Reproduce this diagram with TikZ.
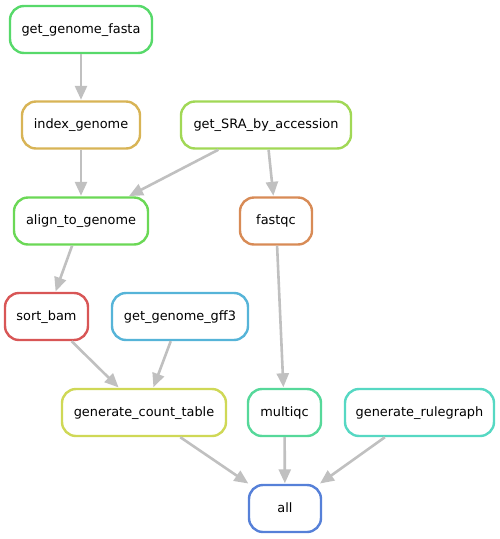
\documentclass[tikz,border=0pt]{standalone}
\usepackage{fontspec}
\setmainfont{DejaVu Sans}
\usetikzlibrary{arrows.meta}
\definecolor{cA}{HTML}{57D96A}
\definecolor{cB}{HTML}{D8B456}
\definecolor{cC}{HTML}{A1D856}
\definecolor{cD}{HTML}{6BD856}
\definecolor{cE}{HTML}{D88B56}
\definecolor{cF}{HTML}{D85656}
\definecolor{cG}{HTML}{56B4D8}
\definecolor{cH}{HTML}{CFD856}
\definecolor{cI}{HTML}{56D89A}
\definecolor{cJ}{HTML}{56D8C3}
\definecolor{cK}{HTML}{5680D8}
\definecolor{edgegray}{HTML}{C0C0C0}
\begin{document}
\begin{tikzpicture}[x=1pt,y=-1pt,
  rule/.style={draw, line width=2.4pt, rounded corners=14pt, fill=white,
    minimum height=47pt, inner sep=0pt, text height=9.5pt, text depth=2pt,
    font=\fontsize{12.9}{14}\selectfont},
  dep/.style={draw=edgegray, line width=2.6pt, -{Triangle[length=14pt,width=12pt]}, shorten >=0.5pt}]
\useasboundingbox (0,0) rectangle (500,539);
\node[rule, draw=cA, minimum width=142pt] (fasta) at (81,29.5) {get\_genome\_fasta};
\node[rule, draw=cB, minimum width=118pt] (index) at (81,125) {index\_genome};
\node[rule, draw=cC, minimum width=170pt] (sra) at (266,125) {get\_SRA\_by\_accession};
\node[rule, draw=cD, minimum width=134pt] (align) at (81,221) {align\_to\_genome};
\node[rule, draw=cE, minimum width=72pt] (fastqc) at (276,221) {fastqc};
\node[rule, draw=cF, minimum width=83pt] (sort) at (46.5,316.5) {sort\_bam};
\node[rule, draw=cG, minimum width=136pt] (gff) at (180,316.5) {get\_genome\_gff3};
\node[rule, draw=cH, minimum width=164pt] (gct) at (144,412.5) {generate\_count\_table};
\node[rule, draw=cI, minimum width=73pt] (multiqc) at (284.5,412.5) {multiqc};
\node[rule, draw=cJ, minimum width=149pt] (rg) at (419.5,412.5) {generate\_rulegraph};
\node[rule, draw=cK, minimum width=72pt] (all) at (285,508.5) {all};
\draw[dep] (fasta) -- (index);
\draw[dep] (index) -- (align);
\draw[dep] (sra) -- (align);
\draw[dep] (sra) -- (fastqc);
\draw[dep] (align) -- (sort);
\draw[dep] (sort) -- (gct);
\draw[dep] (gff) -- (gct);
\draw[dep] (fastqc) -- (multiqc);
\draw[dep] (gct) -- (all);
\draw[dep] (multiqc) -- (all);
\draw[dep] (rg) -- (all);
\end{tikzpicture}
\end{document}
